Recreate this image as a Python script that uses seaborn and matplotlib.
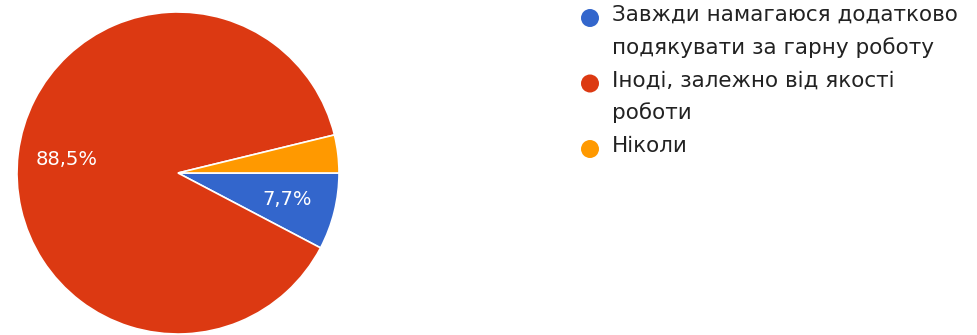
import matplotlib
matplotlib.use("Agg")
import matplotlib.pyplot as plt
from matplotlib.patches import Circle
from matplotlib.transforms import IdentityTransform
import seaborn as sns

# Survey answers and their shares (%)
categories = [
    "Завжди намагаюся додатково\nподякувати за гарну роботу",
    "Іноді, залежно від якості\nроботи",
    "Ніколи",
]
shares = [7.7, 88.5, 3.8]
colors = ["#3366CC", "#DC3912", "#FF9900"]

sns.set_theme(style="white")
plt.rcParams["font.family"] = ["DejaVu Sans"]

W, H = 978, 335
fig = plt.figure(figsize=(W / 100, H / 100), dpi=100)
fig.patch.set_facecolor("white")

# Pie: centre at (178, 173) px from top-left, radius 161 px
cx, cy, r = 178, 173, 161
ax = fig.add_axes([(cx - r) / W, (H - cy - r) / H, 2 * r / W, 2 * r / H])


def pct_label(p):
    return f"{p:.1f}%".replace(".", ",") if p >= 5 else ""


wedges, texts, autotexts = ax.pie(
    shares,
    colors=colors,
    startangle=0,
    counterclock=False,
    autopct=pct_label,
    pctdistance=0.70,
    radius=1.0,
    wedgeprops=dict(edgecolor="white", linewidth=1.2),
    textprops=dict(color="white", fontsize=14),
)
ax.set_xlim(-1, 1)
ax.set_ylim(-1, 1)
ax.set_aspect("equal")
ax.axis("off")

# Legend: coloured dots beside wrapped labels (pixel layout, origin top-left)
line_h = 32.75
baseline = 21
for label, col in zip(categories, colors):
    fig.add_artist(Circle((590, H - (baseline - 3)), 9.0,
                          transform=IdentityTransform(),
                          facecolor=col, edgecolor="none"))
    for line in label.split("\n"):
        fig.text(612 / W, 1 - baseline / H, line, fontsize=15.5,
                 color="#222222", va="baseline", ha="left")
        baseline += line_h

fig.savefig("out.png", dpi=100, facecolor="white")
